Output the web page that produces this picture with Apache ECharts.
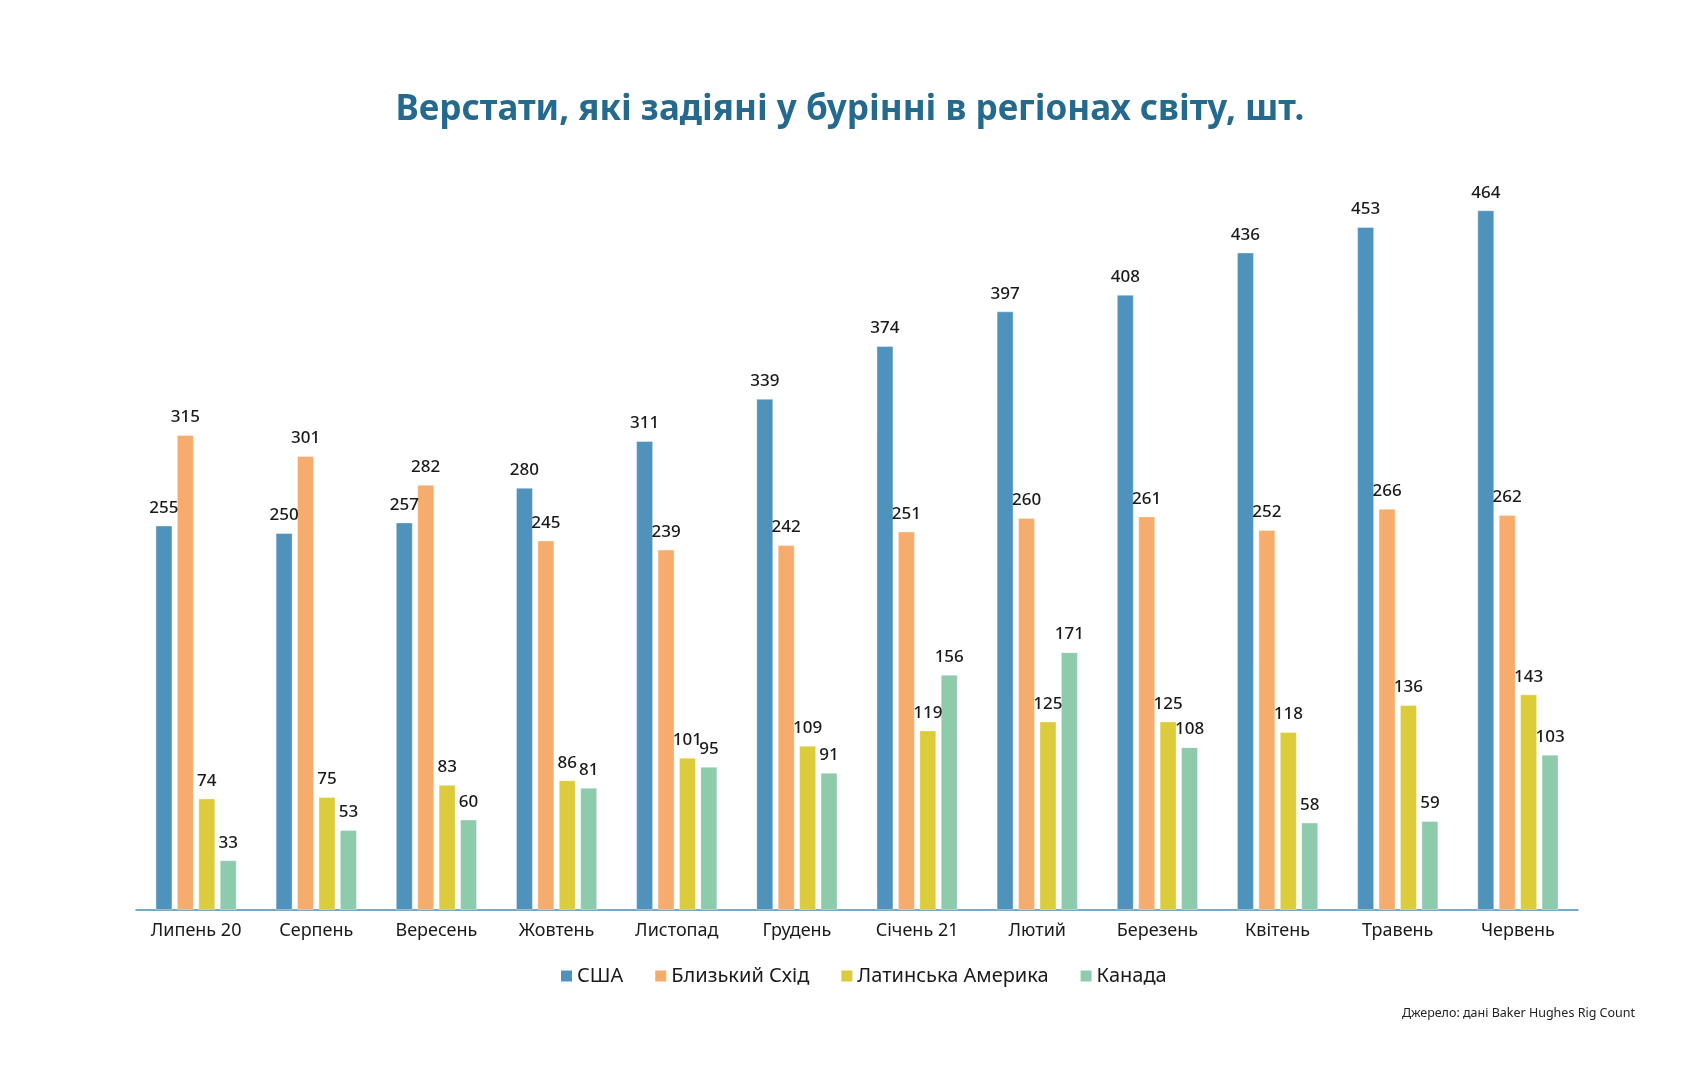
<!DOCTYPE html>
<html>
<head>
<meta charset="utf-8">
<script src="https://cdn.jsdelivr.net/npm/echarts@6/dist/echarts.min.js"></script>
<style>
html,body{margin:0;padding:0;background:#fff;}
#chart{width:1684px;height:1080px;}
</style>
</head>
<body>
<div id="chart"></div>
<script>
const categories = ['Липень 20','Серпень','Вересень','Жовтень','Листопад','Грудень','Січень 21','Лютий','Березень','Квітень','Травень','Червень'];
const usa = [255,250,257,280,311,339,374,397,408,436,453,464];
const middleEast = [315,301,282,245,239,242,251,260,261,252,266,262];
const latinAmerica = [74,75,83,86,101,109,119,125,125,118,136,143];
const canada = [33,53,60,81,95,91,156,171,108,58,59,103];
const seriesNames = ['США','Близький Схід','Латинська Америка','Канада'];
const titleText = 'Верстати, які задіяні у бурінні в регіонах світу, шт.';
const sourceText = 'Джерело: дані Baker Hughes Rig Count';

const colors = ['#4f93bd','#f5ac6c','#dccb3a','#8ecaac'];
const font = '"Noto Sans", sans-serif';

const chart = echarts.init(document.getElementById('chart'));
const mk = (name, data, i) => ({
  name, type:'bar', data,
  barWidth: 17,
  barGap: '26%',
  itemStyle:{color:colors[i], borderColor:'rgba(255,255,255,0.35)', borderWidth:1},
  label:{show:true, position:'top', distance:9, color:'#1a1a1a', fontSize:17, fontWeight:500, fontFamily:font},
  emphasis:{disabled:true}
});
chart.setOption({
  animation:false,
  color: colors,
  grid:{left:136, right:106, top:156, bottom:170, containLabel:false},
  xAxis:{
    type:'category', data:categories,
    axisLine:{show:true, lineStyle:{color:'#4a8db5', width:1.5}},
    axisTick:{show:false},
    axisLabel:{color:'#1a1a1a', fontSize:18, fontFamily:font, margin:12}
  },
  yAxis:{type:'value', min:0, max:500, show:false, splitLine:{show:false}},
  legend:{
    data: seriesNames, left:556, top:961,
    icon:'rect', itemWidth:11, itemHeight:11, itemGap:32, itemStyle:{borderWidth:0},
    textStyle:{color:'#1a1a1a', fontSize:20, fontFamily:font}
  },
  graphic:[
    {type:'text', x:850, y:110, style:{text:titleText, textAlign:'center', textVerticalAlign:'middle', fill:'#246a8e', fontSize:35, fontWeight:'bold', fontFamily:font}},
    {type:'text', x:1635, y:1013, style:{text:sourceText, textAlign:'right', textVerticalAlign:'middle', fill:'#222', fontSize:12.5, fontFamily:font}}
  ],
  series:[mk(seriesNames[0],usa,0), mk(seriesNames[1],middleEast,1), mk(seriesNames[2],latinAmerica,2), mk(seriesNames[3],canada,3)]
});
</script>
</body>
</html>
